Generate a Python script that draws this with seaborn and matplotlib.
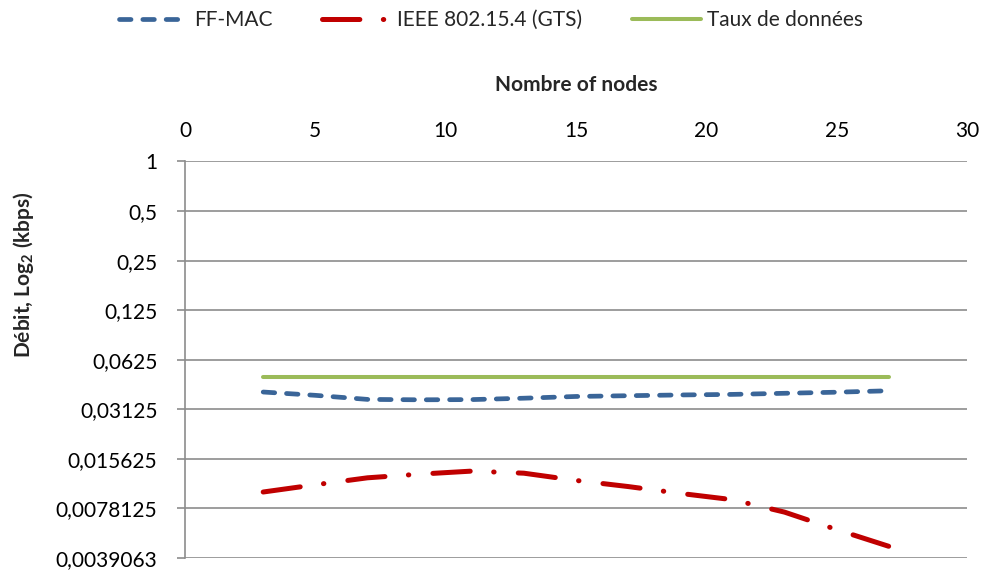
import matplotlib
matplotlib.use("Agg")
import matplotlib.pyplot as plt
from matplotlib.ticker import NullLocator
import numpy as np
import pandas as pd
import seaborn as sns

# Number of nodes and throughput (kbps) for each protocol
nodes = [3, 5, 7, 9, 11, 13, 15, 17, 19, 21, 23, 25, 27]
ff_mac = [0.0398, 0.0380, 0.0359, 0.0357, 0.0358, 0.0365, 0.0374,
          0.0378, 0.0382, 0.0385, 0.0391, 0.0397, 0.0405]
ieee_gts = [0.00983, 0.01088, 0.01199, 0.01262, 0.01317, 0.01279, 0.01156,
            0.01061, 0.00964, 0.00883, 0.00742, 0.00581, 0.00460]
data_rate = [0.049] * len(nodes)

series_names = ["FF-MAC", "IEEE 802.15.4 (GTS)", "Taux de données"]
x_ticks = [0, 5, 10, 15, 20, 25, 30]
y_ticks = [1, 0.5, 0.25, 0.125, 0.0625, 0.03125, 0.015625, 0.0078125, 0.00390625]
y_tick_labels = ["1", "0,5", "0,25", "0,125", "0,0625", "0,03125",
                 "0,015625", "0,0078125", "0,0039063"]

sns.set_theme(style="white")
plt.rcParams["font.family"] = ["Lato", "DejaVu Sans"]
plt.rcParams["mathtext.fontset"] = "custom"
plt.rcParams["mathtext.rm"] = "Lato"
plt.rcParams["mathtext.bf"] = "Lato:bold"
plt.rcParams["lines.scale_dashes"] = False

fig = plt.figure(figsize=(9.82, 5.72), dpi=100)
ax = fig.add_axes([185 / 982, 1 - 558 / 572, (967 - 185) / 982, (558 - 161.5) / 572])

df = pd.DataFrame({
    "nodes": nodes * 3,
    "debit": ff_mac + ieee_gts + data_rate,
    "serie": [series_names[0]] * len(nodes) + [series_names[1]] * len(nodes)
             + [series_names[2]] * len(nodes),
})

colors = {"FF-MAC": "#3A6598", "IEEE 802.15.4 (GTS)": "#C00000",
          "Taux de données": "#9BBB59"}
styles = {
    "FF-MAC": dict(lw=3.4, dashes=(8.3, 8.5)),
    "IEEE 802.15.4 (GTS)": dict(lw=3.6, dashes=(26.9, 16.9, 0.3, 17.4)),
    "Taux de données": dict(lw=2.9, dashes=None),
}

handles = []
for name in series_names:
    sub = df[df["serie"] == name]
    sns.lineplot(data=sub, x="nodes", y="debit", ax=ax, color=colors[name],
                 lw=styles[name]["lw"], label=name, legend=False)
    line = ax.get_lines()[-1]
    line.set_solid_capstyle("round")
    line.set_dash_capstyle("round")
    if styles[name]["dashes"] is not None:
        line.set_dashes(styles[name]["dashes"])
    handles.append(line)

ax.set_yscale("log", base=2)
ax.set_ylim(2 ** -8, 1)
ax.set_xlim(0, 30)
ax.set_yticks(y_ticks)
ax.set_yticklabels(y_tick_labels)
ax.yaxis.set_minor_locator(NullLocator())
ax.set_xticks(x_ticks)
ax.set_xticklabels([str(v) for v in x_ticks])
ax.xaxis.tick_top()
ax.xaxis.set_label_position("top")

grid_color = "#8C8C8C"
ax.grid(axis="y", color=grid_color, lw=1.2)
ax.grid(axis="x", visible=False)
ax.set_axisbelow(True)
for side in ["top", "right", "bottom"]:
    ax.spines[side].set_visible(False)
ax.spines["left"].set_color(grid_color)
ax.spines["left"].set_linewidth(1.2)

ax.tick_params(axis="y", which="major", left=True, length=5.8, width=1.2,
               color=grid_color, pad=14, labelsize=15, labelcolor="black")
ax.tick_params(axis="x", which="major", top=True, length=0, pad=15,
               labelsize=15, labelcolor="black")

ax.set_xlabel("Nombre of nodes", fontsize=15, fontweight="bold", labelpad=21)
ax.set_ylabel(r"Débit, Log$_\mathbf{2}$ (kbps)", fontsize=15, fontweight="bold")
ax.yaxis.set_label_coords(-0.19, 0.716)

fig.legend(handles, series_names, loc="center", bbox_to_anchor=(0.5, 1 - 20 / 572),
           ncol=3, frameon=False, fontsize=15, handlelength=3.3,
           handletextpad=0.3, columnspacing=2.4)

fig.savefig("out.png", dpi=100, facecolor="white")
